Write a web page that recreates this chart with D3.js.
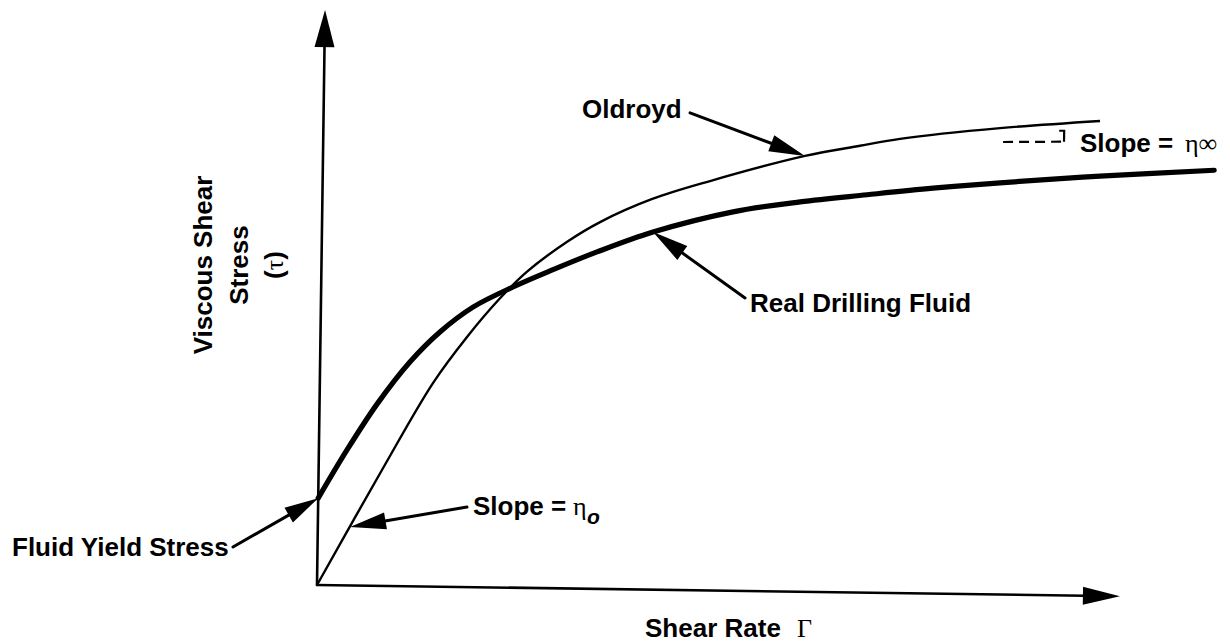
<!DOCTYPE html>
<html><head><meta charset="utf-8">
<script src="https://cdn.jsdelivr.net/npm/d3@7"></script>
<style>body{margin:0;background:#fff}</style>
</head><body>
<svg id="c" width="1230" height="642"></svg>
<script>
// Shear rate (x) and viscous shear stress (y), arbitrary units (axis arrow tips = 100)
const realShear  = [0, 3.5, 7.16, 11.18, 14.87, 18.94, 23.89, 28.84, 34.29, 41.23, 51.16, 59.49, 67.82, 76.02, 84.36, 96.8, 111.0];
const realStress = [15.1, 23.55, 31.6, 39.0, 44.3, 48.7, 52.3, 55.4, 58.6, 62.2, 65.9, 67.8, 69.2, 70.5, 71.6, 73.0, 74.3];
const oldShear   = [0, 7.89, 14.09, 18.25, 22.29, 25.61, 30.55, 34.62, 41.0, 48.24, 60.02, 66.86, 71.83, 84.26, 96.7];
const oldStress  = [0, 20.16, 35.4, 43.5, 50.3, 55.0, 60.3, 63.8, 67.9, 71.2, 75.8, 77.7, 79.0, 81.1, 82.6];
// annotation arrows: [tail, tip] in data units
const oldroydArrow = [[45.63, 83.0], [60.02, 75.8]];
const realArrow    = [[52.8, 50.96], [41.23, 62.2]];
const yieldArrow   = [[-10.53, 6.41], [0, 15.1]];
const eta0Arrow    = [[18.54, 13.93], [4.01, 10.17]];
const slopeInfDash = [[84.66, 78.7], [92.0, 78.9]];
const slopeInfTop  = 80.8;

const svg = d3.select("#c");
const W = 803, H = 575;
const x = d3.scaleLinear().domain([0, 100]).range([0, W]);
const y = d3.scaleLinear().domain([0, 100]).range([0, -H]);

const g = svg.append("g").attr("transform", "translate(317,585) rotate(0.8)");

function arrow(p1, p2, len, hw, sw) {
  const dx = p2[0] - p1[0], dy = p2[1] - p1[1];
  const L = Math.hypot(dx, dy), ux = dx / L, uy = dy / L;
  const bx = p2[0] - ux * len, by = p2[1] - uy * len;
  g.append("line").attr("x1", p1[0]).attr("y1", p1[1]).attr("x2", bx + ux * 2).attr("y2", by + uy * 2)
    .attr("stroke", "#000").attr("stroke-width", sw).attr("stroke-linecap", "round");
  g.append("polygon").attr("points", [
    [p2[0], p2[1]], [bx - uy * hw, by + ux * hw], [bx + uy * hw, by - ux * hw]
  ].map(p => p.join(",")).join(" ")).attr("fill", "#000");
}

// axes
arrow([x(0), y(0)], [x(0), y(100)], 37, 10, 2.6);
arrow([x(0), y(0)], [x(100), y(0)], 37, 9, 2.6);

const line = d3.line().curve(d3.curveCatmullRom.alpha(0.5)).x(d => x(d[0])).y(d => y(d[1]));
g.append("path").attr("d", line(oldShear.map((v, i) => [v, oldStress[i]])))
  .attr("fill", "none").attr("stroke", "#000").attr("stroke-width", 2.4);
g.append("path").attr("d", line(realShear.map((v, i) => [v, realStress[i]])))
  .attr("fill", "none").attr("stroke", "#000").attr("stroke-width", 5.2).attr("stroke-linecap", "round");

const P = d => [x(d[0]), y(d[1])];
arrow(P(oldroydArrow[0]), P(oldroydArrow[1]), 36, 8.5, 3);
arrow(P(realArrow[0]), P(realArrow[1]), 36, 8.5, 3);
arrow(P(yieldArrow[0]), P(yieldArrow[1]), 34, 8.5, 3);
arrow(P(eta0Arrow[0]), P(eta0Arrow[1]), 36, 8.5, 3);

// slope at infinity marker
g.append("line").attr("x1", x(slopeInfDash[0][0])).attr("y1", y(slopeInfDash[0][1]))
  .attr("x2", x(slopeInfDash[1][0])).attr("y2", y(slopeInfDash[1][1]))
  .attr("stroke", "#000").attr("stroke-width", 2.2).attr("stroke-dasharray", "10,6");
g.append("line").attr("x1", x(slopeInfDash[1][0]) + 2).attr("y1", y(slopeInfDash[1][1]))
  .attr("x2", x(slopeInfDash[1][0]) + 2).attr("y2", y(slopeInfTop))
  .attr("stroke", "#000").attr("stroke-width", 2.2);
g.append("line").attr("x1", x(slopeInfDash[1][0]) - 3).attr("y1", y(slopeInfTop))
  .attr("x2", x(slopeInfDash[1][0]) + 3).attr("y2", y(slopeInfTop))
  .attr("stroke", "#000").attr("stroke-width", 2);

// texts
const SANS = "'Liberation Sans', Arial, Helvetica, sans-serif";
const SERIF = "'Liberation Serif', 'Times New Roman', serif";
function txt(xp, yp, s, opts = {}) {
  const t = svg.append("text").attr("x", xp).attr("y", yp)
    .attr("font-family", opts.family || SANS)
    .attr("font-weight", opts.weight || "bold")
    .attr("font-size", opts.size || 26)
    .attr("fill", "#000").text(s);
  if (opts.anchor) t.attr("text-anchor", opts.anchor);
  if (opts.style) t.attr("font-style", opts.style);
  return t;
}
txt(582, 118, "Oldroyd");
txt(1080, 152, "Slope =");
txt(1185, 152, "η∞", {family: SERIF, weight: "normal", size: 26});
txt(750, 312, "Real Drilling Fluid");
txt(12, 556, "Fluid Yield Stress");
txt(473, 515, "Slope =");
txt(573, 515, "η", {family: SERIF, weight: "normal", size: 26});
txt(587, 524, "o", {weight: "bold", style: "italic", size: 21});
txt(645, 637, "Shear Rate");
txt(797, 637, "Γ", {family: SERIF, weight: "normal", size: 26});

// y label (rotated)
const yl = [["Viscous Shear", 212], ["Stress", 248]];
yl.forEach(([s, bx]) => {
  svg.append("text").attr("transform", `translate(${bx},265) rotate(-90)`)
    .attr("text-anchor", "middle")
    .attr("font-family", SANS).attr("font-weight", "bold").attr("font-size", 26)
    .attr("fill", "#000").text(s);
});
const tau = svg.append("text").attr("transform", "translate(283,265) rotate(-90)")
  .attr("text-anchor", "middle").attr("font-family", SANS).attr("font-weight", "bold")
  .attr("font-size", 26).attr("fill", "#000");
tau.append("tspan").text("(");
tau.append("tspan").attr("font-family", SERIF).attr("font-weight", "normal").text("τ");
tau.append("tspan").text(")");
</script>
</body></html>
